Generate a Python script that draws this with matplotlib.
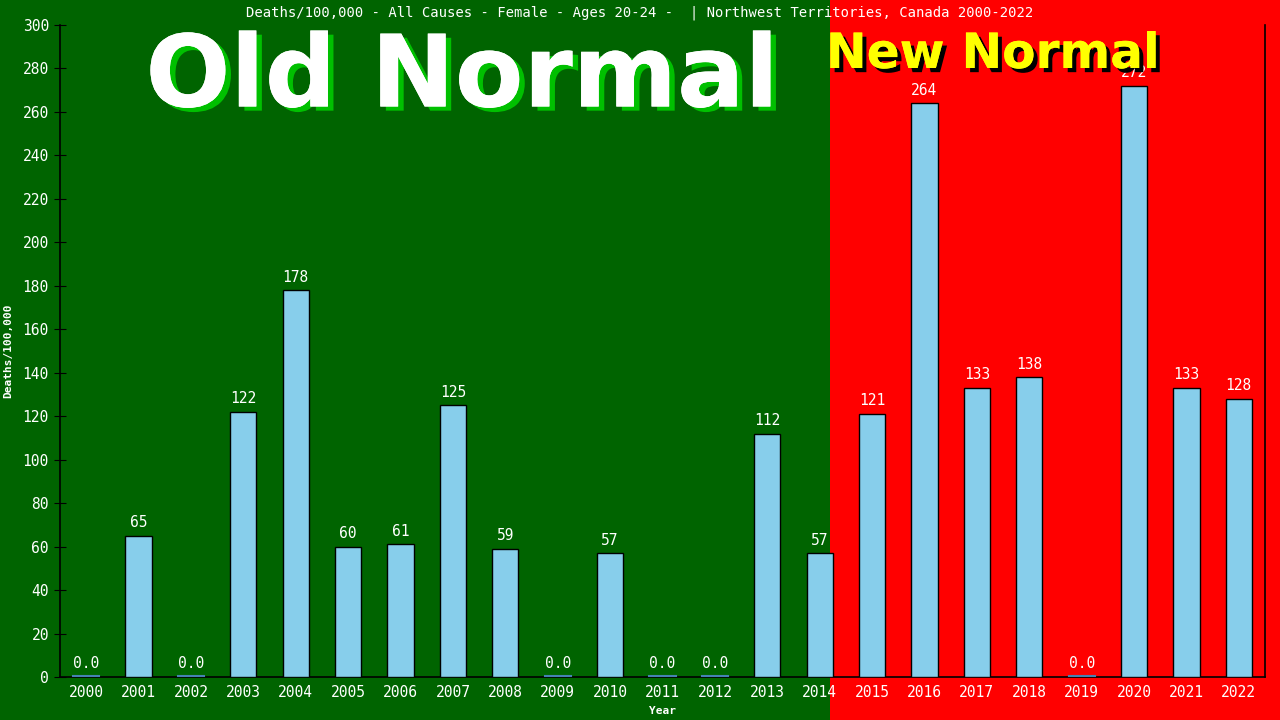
import matplotlib
matplotlib.use("Agg")
import matplotlib.pyplot as plt
from matplotlib.patches import Rectangle
import matplotlib.patheffects as pe

years = list(range(2000, 2023))
values = [0, 65, 0, 122, 178, 60, 61, 125, 59, 0, 57, 0, 0, 112, 57,
          121, 264, 133, 138, 0, 272, 133, 128]
year_labels = [str(y) for y in years]
yticks = list(range(0, 301, 20))

title = "Deaths/100,000 - All Causes - Female - Ages 20-24 -  | Northwest Territories, Canada 2000-2022"

fig = plt.figure(figsize=(12.8, 7.2), dpi=100)
fig.patches.append(Rectangle((0, 0), 830 / 1280, 1, transform=fig.transFigure,
                             facecolor="#006400", edgecolor="none", zorder=-10))
fig.patches.append(Rectangle((830 / 1280, 0), 1 - 830 / 1280, 1, transform=fig.transFigure,
                             facecolor="#FF0000", edgecolor="none", zorder=-10))

ax = fig.add_axes([60 / 1280, 43 / 720, 1205 / 1280, 652 / 720])
ax.set_facecolor("none")
mono = "DejaVu Sans Mono"

x = list(range(len(years)))
ax.bar(x, values, width=0.5, color="#87CEEB", edgecolor="black", linewidth=1.0, zorder=3)
for xi, v in zip(x, values):
    if v == 0:
        ax.plot([xi - 0.25, xi + 0.25], [0.5, 0.5], color="#4682B4", lw=1.5, zorder=4)
        lab = "0.0"
    else:
        lab = f"{v}"
    ax.annotate(lab, (xi, v), xytext=(0, 4), textcoords="offset points",
                ha="center", va="bottom", color="white", fontsize=10.5, family=mono)

ax.set_xlim(-0.5, len(years) - 0.5)
ax.set_ylim(0, 300)
ax.set_xticks(x)
ax.set_xticklabels(year_labels, family=mono, fontsize=10.5, color="white")
ax.set_yticks(yticks)
ax.set_yticklabels([str(t) for t in yticks], family=mono, fontsize=10.5, color="white")
ax.tick_params(axis="y", direction="inout", length=8, color="black", pad=4)
ax.tick_params(axis="x", length=0, pad=6)
for s in ["left", "bottom", "right"]:
    ax.spines[s].set_color("black")
    ax.spines[s].set_linewidth(1.2)
ax.spines["top"].set_visible(False)

ax.set_xlabel("Year", family=mono, fontsize=8, fontweight="bold", color="white", labelpad=4)
ax.set_ylabel("Deaths/100,000", family=mono, fontsize=8, fontweight="bold", color="white")
ax.yaxis.set_label_coords((13 - 60) / 1205, 0.5)

fig.text(0.5, 1 - 13 / 720, title, ha="center", va="center", color="white", fontsize=10, family=mono)

fig.text(462 / 1280, 1 - 79 / 720, "Old Normal", ha="center", va="center", color="white",
         fontsize=72, fontweight="bold", family="DejaVu Sans",
         path_effects=[pe.withSimplePatchShadow(offset=(4, -3), shadow_rgbFace="#00C000", alpha=1.0),
                       pe.Normal()])
fig.text(993 / 1280, 1 - 54 / 720, "New Normal", ha="center", va="center", color="#FFFF00",
         fontsize=35, fontweight="bold", family="DejaVu Sans",
         path_effects=[pe.withSimplePatchShadow(offset=(3, -3), shadow_rgbFace="black", alpha=1.0),
                       pe.Normal()])

fig.savefig("out.png", dpi=100)
